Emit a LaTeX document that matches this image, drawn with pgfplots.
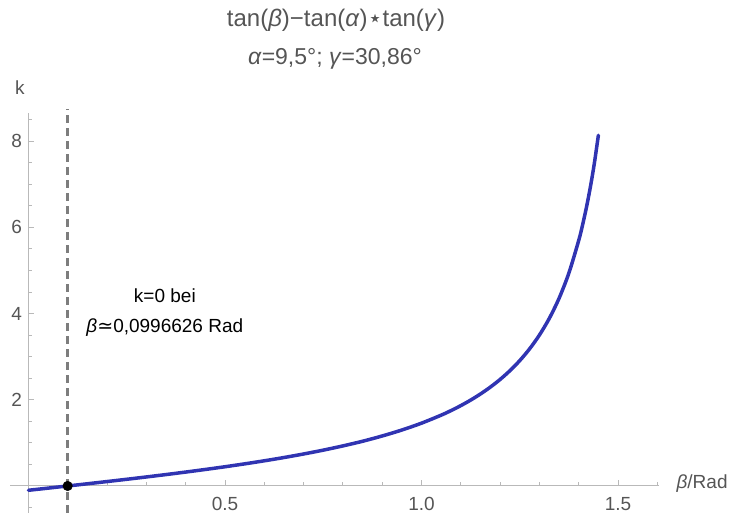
\documentclass[border=0pt]{standalone}
\usepackage{fontspec}
\setmainfont{Liberation Sans}
\newfontfamily\dejavu{DejaVu Sans}
\usepackage{pgfplots}
\pgfplotsset{compat=1.18}
\definecolor{curveblue}{RGB}{48,52,178}
\definecolor{axgray}{RGB}{185,185,185}
\definecolor{txtgray}{RGB}{85,85,85}
\definecolor{dashgray}{RGB}{125,125,125}
\begin{document}
\begin{tikzpicture}
\path[use as bounding box] (0pt,0pt) rectangle (732pt,513pt);
\node[anchor=base, text=txtgray, font=\fontsize{24}{28}\selectfont] at (336pt,486pt)
  {tan(\textit{β})−tan(\textit{α}){\dejavu ⋆}tan(\textit{γ})};
\node[anchor=base, text=txtgray, font=\fontsize{23}{27}\selectfont] at (335pt,448pt)
  {\textit{α}=9,5°; \textit{γ}=30,86°};
\begin{axis}[
  at={(10pt,0.3pt)}, anchor=south west,
  scale only axis, width=649.3pt, height=399.5pt,
  xmin=-0.047, xmax=1.605, ymin=-0.62, ymax=8.65,
  axis lines=middle,
  axis line style={-, draw=axgray, line width=1pt},
  clip=false,
  tick align=inside,
  major tick length=6pt, minor tick length=3.5pt,
  tick style={draw=axgray, line width=0.9pt},
  xtick={0.5,1,1.5}, xticklabels={0.5,1.0,1.5},
  minor xtick={0.1,0.2,0.3,0.4,0.6,0.7,0.8,0.9,1.1,1.2,1.3,1.4,1.6},
  ytick={2,4,6,8}, yticklabels={2,4,6,8},
  minor ytick={-0.5,0.5,1,1.5,2.5,3,3.5,4.5,5,5.5,6.5,7,7.5,8.5},
  /pgf/number format/assume math mode=true,
  ticklabel style={font=\fontsize{19}{22}\selectfont, text=txtgray},
  xticklabel style={anchor=base, inner sep=0pt, yshift=-24.5pt},
  yticklabel style={xshift=-3pt},
]
\addplot[dashgray, line width=2.5pt, dash pattern=on 8pt off 5pt] coordinates {(0.0996626,-0.62) (0.0996626,8.75)};
\addplot[curveblue, line width=3.5pt, smooth, line cap=round] coordinates {
(0,-0.1000) (0.05,-0.04995) (0.0996626,0) (0.15,0.05114) (0.20,0.10272) (0.25,0.15535)
(0.30,0.20934) (0.35,0.26504) (0.40,0.32280) (0.45,0.38306) (0.50,0.44631) (0.55,0.51311)
(0.60,0.58414) (0.65,0.66021) (0.70,0.74229) (0.75,0.83160) (0.80,0.92965) (0.85,1.03751)
(0.90,1.16017) (0.95,1.29839) (1.00,1.45741) (1.05,1.64332) (1.075,1.74893) (1.10,1.86477)
(1.125,1.99258) (1.15,2.13487) (1.175,2.29324) (1.20,2.47216) (1.225,2.67569) (1.25,2.90958)
(1.275,3.18155) (1.30,3.50211) (1.325,3.88620) (1.35,4.35518) (1.375,4.94195) (1.40,5.69789)
(1.41,6.06539) (1.42,6.48117) (1.43,6.95553) (1.44,7.50186) (1.45,8.13810)
};
\addplot[only marks, mark=*, mark size=4.8pt, black] coordinates {(0.0996626,0)};
\node[font=\fontsize{19}{22}\selectfont] at (axis cs:0.347,4.41) {k=0 bei};
\node[font=\fontsize{19}{22}\selectfont] at (axis cs:0.347,3.67) {\textit{β}{\dejavu ≃}0,0996626 Rad};
\node[font=\fontsize{19}{22}\selectfont, text=txtgray] at (axis cs:-0.0216,9.25) {k};
\node[font=\fontsize{19}{22}\selectfont, text=txtgray, anchor=base west] at (axis cs:1.64,-0.05) {\textit{β}/Rad};
\end{axis}
\end{tikzpicture}
\end{document}
